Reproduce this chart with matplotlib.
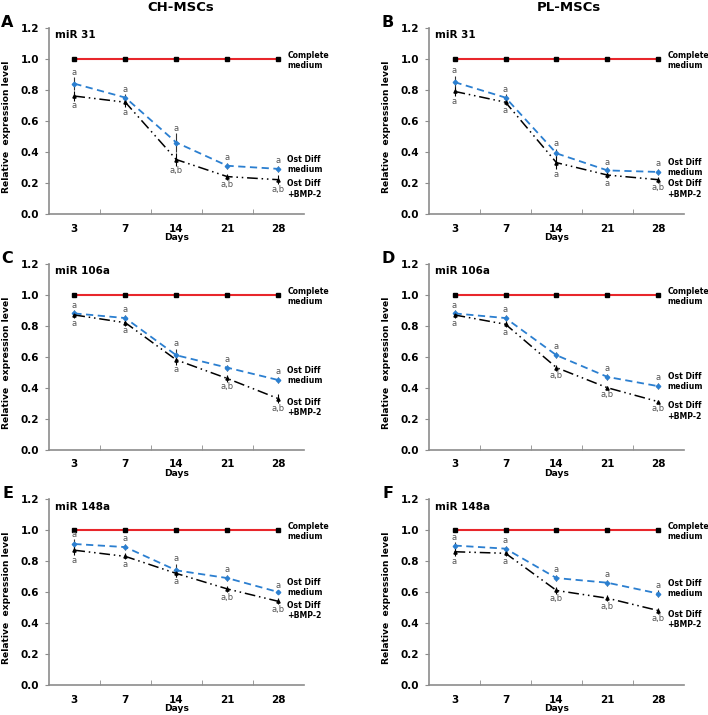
import matplotlib
matplotlib.use("Agg")
import matplotlib.pyplot as plt
import numpy as np

# x categories (days)
days = ["3", "7", "14", "21", "28"]

# panel meta
panel_letters = ["A", "B", "C", "D", "E", "F"]
mirs = ["miR 31", "miR 31", "miR 106a", "miR 106a", "miR 148a", "miR 148a"]
col_titles = ["CH-MSCs", "PL-MSCs"]

# Complete medium (control)
complete = [1.0, 1.0, 1.0, 1.0, 1.0]

# Ost Diff medium (blue dashed)
ost_A = [0.84, 0.75, 0.46, 0.31, 0.29]
ost_B = [0.85, 0.75, 0.39, 0.28, 0.27]
ost_C = [0.88, 0.85, 0.61, 0.53, 0.45]
ost_D = [0.88, 0.85, 0.61, 0.47, 0.41]
ost_E = [0.91, 0.89, 0.74, 0.69, 0.60]
ost_F = [0.90, 0.88, 0.69, 0.66, 0.59]

ost_err_A = [0.04, 0.02, 0.06, 0.02, 0.02]
ost_err_B = [0.04, 0.02, 0.03, 0.02, 0.02]
ost_err_C = [0.02, 0.02, 0.04, 0.02, 0.02]
ost_err_D = [0.02, 0.02, 0.02, 0.02, 0.02]
ost_err_E = [0.03, 0.02, 0.04, 0.02, 0.01]
ost_err_F = [0.02, 0.02, 0.02, 0.02, 0.02]

# Ost Diff + BMP-2 (black dash-dot-dot)
bmp_A = [0.76, 0.72, 0.35, 0.24, 0.22]
bmp_B = [0.79, 0.72, 0.33, 0.25, 0.22]
bmp_C = [0.87, 0.82, 0.58, 0.46, 0.33]
bmp_D = [0.87, 0.81, 0.53, 0.40, 0.31]
bmp_E = [0.87, 0.83, 0.72, 0.62, 0.54]
bmp_F = [0.86, 0.85, 0.61, 0.56, 0.48]

bmp_err_A = [0.03, 0.03, 0.04, 0.02, 0.03]
bmp_err_B = [0.03, 0.02, 0.04, 0.02, 0.02]
bmp_err_C = [0.02, 0.02, 0.03, 0.02, 0.03]
bmp_err_D = [0.02, 0.02, 0.02, 0.01, 0.01]
bmp_err_E = [0.03, 0.02, 0.02, 0.02, 0.02]
bmp_err_F = [0.03, 0.02, 0.02, 0.02, 0.02]

# significance letters
ost_sig = ["a", "a", "a", "a", "a"]
bmp_sig_A = ["a", "a", "a,b", "a,b", "a,b"]
bmp_sig_B = ["a", "a", "a", "a", "a,b"]
bmp_sig_C = ["a", "a", "a", "a,b", "a,b"]
bmp_sig_D = ["a", "a", "a,b", "a,b", "a,b"]
bmp_sig_E = ["a", "a", "a", "a,b", "a,b"]
bmp_sig_F = ["a", "a", "a,b", "a,b", "a,b"]

ost_all = [ost_A, ost_B, ost_C, ost_D, ost_E, ost_F]
ost_err_all = [ost_err_A, ost_err_B, ost_err_C, ost_err_D, ost_err_E, ost_err_F]
bmp_all = [bmp_A, bmp_B, bmp_C, bmp_D, bmp_E, bmp_F]
bmp_err_all = [bmp_err_A, bmp_err_B, bmp_err_C, bmp_err_D, bmp_err_E, bmp_err_F]
bmp_sig_all = [bmp_sig_A, bmp_sig_B, bmp_sig_C, bmp_sig_D, bmp_sig_E, bmp_sig_F]

RED = "#e8262b"
BLUE = "#2b7fd0"
GRAY = "#8c8c8c"

plt.rcParams['font.family'] = ['DejaVu Sans']

fig = plt.figure(figsize=(7.08, 7.15), dpi=100)

lefts = [0.069, 0.606]
bottoms = [0.701, 0.371, 0.042]
w, h = 0.36, 0.26

x = np.arange(1, 6)

for i in range(6):
    row, col = divmod(i, 2)
    ax = fig.add_axes([lefts[col], bottoms[row], w, h])

    ax.plot(x, complete, color=RED, lw=1.5, marker="s", ms=3.2,
            mfc="black", mec="black", zorder=3)
    ax.errorbar(x, ost_all[i], yerr=ost_err_all[i], color=BLUE, lw=1.3,
                ls=(0, (4, 2.5)), marker="D", ms=2.3, ecolor="#333333",
                elinewidth=0.8, capsize=0, zorder=4)
    ax.errorbar(x, bmp_all[i], yerr=bmp_err_all[i], color="black", lw=1.1,
                ls=(0, (7, 2.5, 1, 2.5, 1, 2.5)), marker="^", ms=2.3,
                ecolor="black", elinewidth=0.8, capsize=0, zorder=4)

    for j in range(5):
        ax.annotate(ost_sig[j], (x[j], ost_all[i][j] + ost_err_all[i][j]),
                    xytext=(0, 0.5), textcoords="offset points", ha="center",
                    va="bottom", fontsize=6, color="#555555")
        ax.annotate(bmp_sig_all[i][j], (x[j], bmp_all[i][j] - bmp_err_all[i][j]),
                    xytext=(0, -0.5), textcoords="offset points", ha="center",
                    va="top", fontsize=6, color="#555555")

    # series labels at the right
    ax.text(5.18, 0.99, "Complete\nmedium", fontsize=5.6, fontweight="bold",
            ha="left", va="center", linespacing=1.15, clip_on=False)
    ax.text(5.18, ost_all[i][-1] + 0.03, "Ost Diff\nmedium", fontsize=5.6,
            fontweight="bold", ha="left", va="center", linespacing=1.15, clip_on=False)
    ax.text(5.18, bmp_all[i][-1] - 0.06, "Ost Diff\n+BMP-2", fontsize=5.6,
            fontweight="bold", ha="left", va="center", linespacing=1.15, clip_on=False)

    ax.set_xlim(0.5, 5.5)
    ax.set_ylim(0, 1.2)
    ax.set_yticks(np.arange(0, 1.21, 0.2))
    ax.set_yticklabels([f"{v:.1f}" for v in np.arange(0, 1.21, 0.2)])
    ax.set_xticks(x)
    ax.set_xticklabels(days)
    ax.set_xticks(np.arange(1.5, 5.5, 1), minor=True)
    ax.tick_params(axis="x", which="major", length=0, pad=7)
    ax.tick_params(axis="x", which="minor", direction="in", length=3.5, color=GRAY)
    ax.tick_params(axis="y", direction="out", length=3, color=GRAY, pad=4)
    for lab in ax.get_xticklabels() + ax.get_yticklabels():
        lab.set_fontweight("bold")
        lab.set_fontsize(7.5)

    ax.spines["top"].set_visible(False)
    ax.spines["right"].set_visible(False)
    ax.spines["left"].set_color(GRAY)
    ax.spines["bottom"].set_color(GRAY)
    ax.spines["left"].set_linewidth(1.2)
    ax.spines["bottom"].set_linewidth(1.2)

    ax.set_ylabel("Relative  expression level", fontsize=6.6, fontweight="bold")
    ax.yaxis.set_label_coords(-0.15, 0.47)
    ax.set_xlabel("Days", fontsize=6.6, fontweight="bold", labelpad=-0.5)

    ax.text(0.025, 0.96, mirs[i], transform=ax.transAxes, fontsize=7.5,
            fontweight="bold", ha="left", va="center")
    ax.text(-0.162, 1.03, panel_letters[i], transform=ax.transAxes, fontsize=11.5,
            fontweight="bold", ha="center", va="center")

fig.text(0.256, 0.989, col_titles[0], fontsize=9.5, fontweight="bold", ha="center", va="center")
fig.text(0.803, 0.989, col_titles[1], fontsize=9.5, fontweight="bold", ha="center", va="center")

fig.savefig("out.png", dpi=100)
